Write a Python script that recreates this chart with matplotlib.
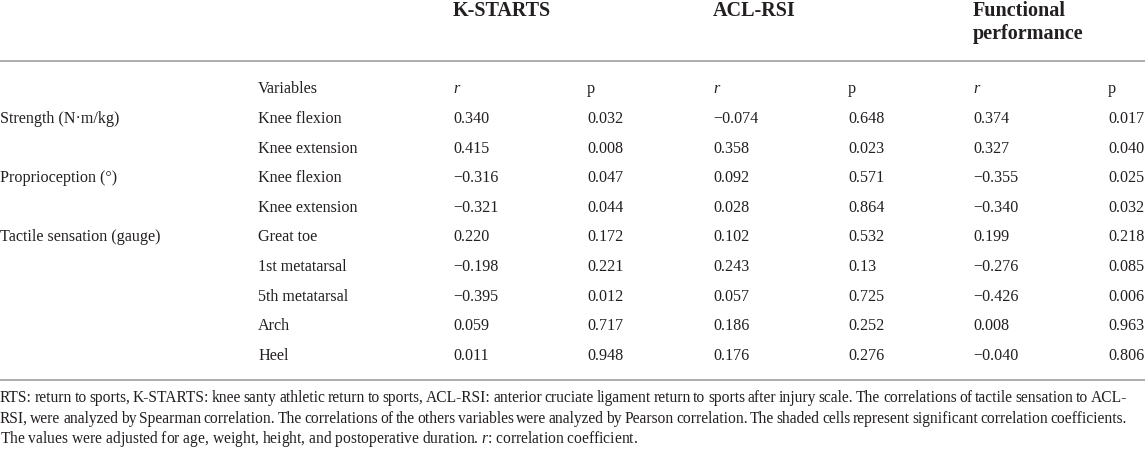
import matplotlib.pyplot as plt

plt.rcParams['font.family'] = ['Liberation Serif', 'DejaVu Serif']
plt.rcParams['mathtext.fontset'] = 'custom'
plt.rcParams['mathtext.rm'] = 'Liberation Serif'
plt.rcParams['mathtext.it'] = 'Liberation Serif:italic'

W, H = 1145, 449
TEXT = '#231f20'
RULE = '#a0a0a0'

groups = [['K-STARTS'], ['ACL-RSI'], ['Functional', 'performance']]
categories = ['Strength (N·m/kg)', '', 'Proprioception (°)', '', 'Tactile sensation (gauge)', '', '', '', '']
variables = ['Knee flexion', 'Knee extension', 'Knee flexion', 'Knee extension', 'Great toe',
             '1st metatarsal', '5th metatarsal', 'Arch', 'Heel']
kstarts_r = ['0.340', '0.415', '−0.316', '−0.321', '0.220', '−0.198', '−0.395', '0.059', '0.011']
kstarts_p = ['0.032', '0.008', '0.047', '0.044', '0.172', '0.221', '0.012', '0.717', '0.948']
aclrsi_r = ['−0.074', '0.358', '0.092', '0.028', '0.102', '0.243', '0.057', '0.186', '0.176']
aclrsi_p = ['0.648', '0.023', '0.571', '0.864', '0.532', '0.13', '0.725', '0.252', '0.276']
func_r = ['0.374', '0.327', '−0.355', '−0.340', '0.199', '−0.276', '−0.426', '0.008', '−0.040']
func_p = ['0.017', '0.040', '0.025', '0.032', '0.218', '0.085', '0.006', '0.963', '0.806']
footnote = [
    'RTS: return to sports, K-STARTS: knee santy athletic return to sports, ACL-RSI: anterior cruciate ligament return to sports after injury scale. The correlations of tactile sensation to ACL-',
    'RSI, were analyzed by Spearman correlation. The correlations of the others variables were analyzed by Pearson correlation. The shaded cells represent significant correlation coefficients.',
    'The values were adjusted for age, weight, height, and postoperative duration. $\\mathit{r}$: correlation coefficient.',
]

col_x = [0, 258, 453, 587, 713, 848, 973, 1108]
group_x = [453, 713, 973]
row_y0, row_dy = 118, 29.6
fs = 11.6
base = 5  # baseline offset below row centre

fig = plt.figure(figsize=(W / 100, H / 100), dpi=100)
ax = fig.add_axes([0, 0, 1, 1])
ax.set_xlim(0, W)
ax.set_ylim(H, 0)
ax.axis('off')

# group headers, one text per line
for gx, g in zip(group_x, groups):
    for k, part in enumerate(g):
        ax.text(gx, 15.5 + k * 23.5, part, fontsize=14.5, fontweight='bold', color=TEXT,
                va='baseline', ha='left')

ax.axhline(61, color=RULE, lw=1.2)

# sub header
ax.text(col_x[1], 88 + base, 'Variables', fontsize=fs, color=TEXT, va='baseline')
for i, lab in enumerate(['r', 'p'] * 3):
    ax.text(col_x[2 + i], 88 + base, lab, fontsize=fs, color=TEXT, va='baseline',
            style='italic' if lab == 'r' else 'normal')

columns = [categories, variables, kstarts_r, kstarts_p, aclrsi_r, aclrsi_p, func_r, func_p]
for j, col in enumerate(columns):
    for i, val in enumerate(col):
        ax.text(col_x[j], row_y0 + i * row_dy + base, val, fontsize=fs, color=TEXT,
                va='baseline', ha='left')

ax.axhline(379.5, color=RULE, lw=1.2)

# justified footnote lines
fs_note = 11.2
fig.canvas.draw()
renderer = fig.canvas.get_renderer()
right_edge = 1127
for k, line in enumerate(footnote):
    y = 402 + k * 20.6
    if k == len(footnote) - 1:
        ax.text(0, y, line, fontsize=fs_note, color=TEXT, va='baseline', ha='left')
        continue
    words = line.split(' ')
    arts = [ax.text(0, y, w, fontsize=fs_note, color=TEXT, va='baseline', ha='left') for w in words]
    widths = [a.get_window_extent(renderer).width for a in arts]
    gap = (right_edge - sum(widths)) / (len(words) - 1)
    x = 0
    for a, w in zip(arts, widths):
        a.set_x(x)
        x += w + gap

fig.savefig('out.png', dpi=100)
